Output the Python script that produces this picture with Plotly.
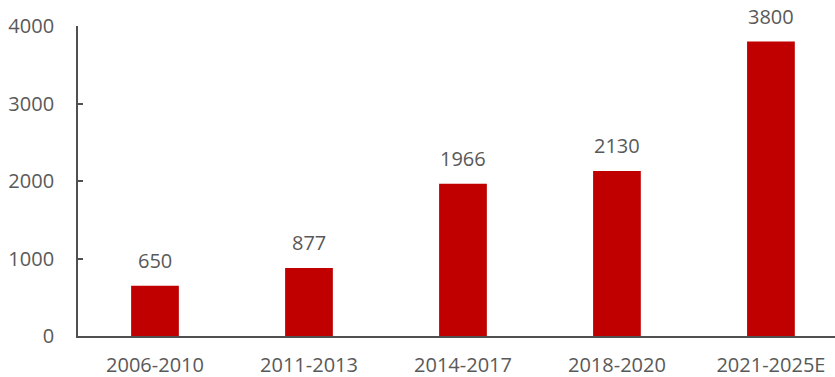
import plotly.graph_objects as go

categories = ["2006-2010", "2011-2013", "2014-2017", "2018-2020", "2021-2025E"]
values = [650, 877, 1966, 2130, 3800]
y_ticks = [0, 1000, 2000, 3000, 4000]

fig = go.Figure(go.Bar(
    x=categories, y=values, width=0.31,
    marker=dict(color="#C00000", line=dict(width=0)),
))
for c, v in zip(categories, values):
    fig.add_annotation(x=c, y=v, text=str(v), showarrow=False, yanchor="bottom",
                       yshift=10, font=dict(size=20, color="#595959"))
fig.update_layout(
    width=835, height=377, margin=dict(l=78, r=0, t=26, b=41),
    paper_bgcolor="white", plot_bgcolor="white", showlegend=False,
    font=dict(family="Open Sans", size=19, color="#595959"),
)
fig.update_xaxes(range=[-0.5, 4.416], showline=True, linecolor="#505050", linewidth=1.8,
                 ticks="", showgrid=False, ticklabelstandoff=10,
                 tickfont=dict(size=20, color="#595959"))
fig.update_yaxes(range=[0, 4000], tickvals=y_ticks, showline=True, linecolor="#505050",
                 linewidth=1.8, ticks="inside", ticklen=5, tickcolor="#505050", tickwidth=1.8,
                 showgrid=False, zeroline=False, ticklabelstandoff=18,
                 tickfont=dict(size=20, color="#595959"))
fig.write_html("out.html")
